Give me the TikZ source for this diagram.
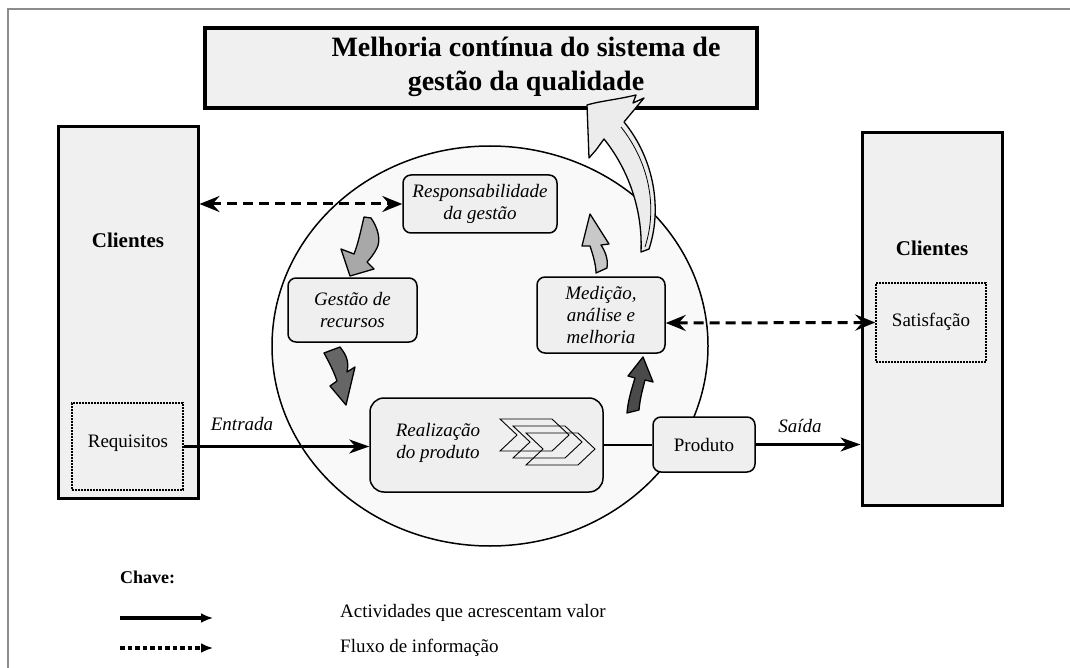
\documentclass[tikz,border=0pt]{standalone}
\usepackage{fontspec}
\setmainfont{Liberation Serif}
\usetikzlibrary{arrows.meta,shapes.geometric}
\definecolor{boxgray}{HTML}{EFEFEF}
\definecolor{cligray}{HTML}{F0F0F0}
\definecolor{circgray}{HTML}{F9F9F9}
\definecolor{framegray}{HTML}{8C8C8C}
\definecolor{arrA}{HTML}{A8A8A8}
\definecolor{arrB}{HTML}{666666}
\definecolor{arrC}{HTML}{4A4A4A}
\definecolor{arrD}{HTML}{C8C8C8}
\definecolor{arrBig}{HTML}{ECECEC}
\begin{document}
\begin{tikzpicture}[x=1pt,y=-1pt,
  procbox/.style={draw, line width=1.5pt, fill=boxgray, rounded corners=8pt,
    font=\itshape\fontsize{19}{22}\selectfont, align=center, inner sep=0pt},
  clibox/.style={draw, line width=3pt, fill=cligray, inner sep=0pt},
  dotbox/.style={draw, line width=1.5pt, dash pattern=on 2pt off 1pt, inner sep=0pt},
  txt/.style={font=\fontsize{19}{22}\selectfont, inner sep=0pt},
  itxt/.style={font=\itshape\fontsize{19}{22}\selectfont, inner sep=0pt},
  btxt/.style={font=\bfseries\fontsize{21}{24}\selectfont, inner sep=0pt},
  infoarrow/.style={line width=3pt, dash pattern=on 10pt off 6pt,
    {Stealth[length=20pt,width=16pt,inset=7pt]}-{Stealth[length=20pt,width=16pt,inset=7pt]}},
  flowarrow/.style={line width=2.2pt, -{Stealth[length=20pt,width=14pt,inset=6pt]}},
  blockarrow/.style={draw=black, line width=1.3pt, line join=round},
  chev/.style={draw=black, line width=0.9pt, line join=miter}
]
\useasboundingbox (0,0) rectangle (1070,668);
% frame
\draw[framegray, line width=2.5pt] (8,668) -- (8,9) -- (1070,9);

% title box
\node[draw, line width=3.2pt, fill=cligray, minimum width=552pt, minimum height=80pt, inner sep=0pt] (titlebox) at (481,68) {};
\node[font=\bfseries\fontsize{28}{34}\selectfont, align=center, inner sep=0pt] (title) at (526,67)
  {Melhoria contínua do sistema de\\gestão da qualidade};

% clientes boxes
\node[clibox, minimum width=140pt, minimum height=371pt] (cliL) at (128,312.5) {};
\node[btxt] (cliLtxt) at (128,240) {Clientes};
\node[dotbox, minimum width=111pt, minimum height=87pt] (reqbox) at (127.5,446.5) {};
\node[txt] (reqtxt) at (128,443) {Requisitos};

\node[clibox, minimum width=140pt, minimum height=372pt] (cliR) at (932,319) {};
\node[btxt] (cliRtxt) at (932,248) {Clientes};
\node[dotbox, minimum width=110pt, minimum height=79pt] (satbox) at (931,322.5) {};
\node[txt] (sattxt) at (931,322) {Satisfação};

% circle
\node[draw, line width=1.5pt, fill=circgray, ellipse, minimum width=436pt, minimum height=400pt, inner sep=0pt] (circ) at (490,346) {};

% process boxes
\node[procbox, minimum width=154pt, minimum height=58pt] (resp) at (480,204) {Responsabilidade\\da gestão};
\node[procbox, minimum width=129pt, minimum height=64pt] (gest) at (352.5,310) {Gestão de\\recursos};
\node[procbox, minimum width=128pt, minimum height=76pt] (med) at (601,315) {Medição,\\análise e\\melhoria};
\node[procbox, rounded corners=14pt, minimum width=233pt, minimum height=94pt] (real) at (486.5,445) {};
\node[itxt, align=center] (realtxt) at (438,443) {Realização\\do produto};
\node[procbox, font=\fontsize{19}{22}\selectfont, minimum width=102pt, minimum height=55pt] (prod) at (704,444.5) {Produto};

% chevrons
\foreach \s in {(0,0),(13,7),(26,14)}{
  \draw[chev, shift={\s}] (500,419) -- (552,419) -- (569,435) -- (552,451) -- (500,451) -- (517,435) -- cycle;
}

% connectors
\draw[flowarrow] (reqbox.east) -- (reqbox.east -| real.west);
\node[itxt] (entrada) at (242,424) {Entrada};
\draw[line width=2.2pt] (real.east) -- (real.east -| prod.west);
\draw[flowarrow] (prod.east) -- (prod.east -| cliR.west);
\node[itxt] (saida) at (800,426) {Saída};

\draw[infoarrow] (cliL.east |- resp.west) -- (resp.west);
\draw[infoarrow] ([yshift=-8pt]med.east) -- (satbox.west);

% block arrows
\draw[blockarrow, fill=arrA] (364,217) -- (371,218) .. controls (378,228) and (381,240) .. (377,248)
  .. controls (374,254) and (370,259) .. (367,262)
  -- (374,269) -- (350,276) -- (341,249) -- (354,254) .. controls (358,244) and (361,230) .. (364,217) -- cycle;
\draw[blockarrow, fill=arrB] (324,353) -- (340,347) .. controls (347,356) and (349,362) .. (347,372)
  -- (355,367) -- (346,405) -- (330,386) -- (337,381) .. controls (334,372) and (329,362) .. (324,353) -- cycle;
\draw[blockarrow, fill=arrC] (627,413) -- (639,410) .. controls (640,398) and (643,388) .. (645,380)
  -- (653,382) -- (643,357) -- (628,376) -- (635,378) .. controls (632,388) and (628,400) .. (627,413) -- cycle;
\draw[blockarrow, fill=arrD] (596,273) -- (607,268) .. controls (608,262) and (607,254) .. (601,245)
  -- (609,244) -- (590,214) -- (582,246) -- (590,246) .. controls (593,255) and (596,265) .. (596,273) -- cycle;

% big improvement arrow
\draw[blockarrow, fill=arrBig] (641,252) -- (649,249) .. controls (662,210) and (655,160) .. (624,122)
  -- (644,98) -- (633,103) -- (636,95) .. controls (615,100) and (600,101) .. (587,105)
  -- (589,158) -- (596,150) -- (604,139) .. controls (625,165) and (643,205) .. (641,252) -- cycle;
\draw[line width=0.8pt] (645,247) .. controls (657,210) and (651,165) .. (621,127);

% legend
\node[font=\bfseries\fontsize{18}{21}\selectfont, anchor=west, inner sep=0pt] (chave) at (120,577) {Chave:};
\coordinate (l1a) at (120,618);
\coordinate (l1b) at (213,618);
\coordinate (l2a) at (120,648);
\coordinate (l2b) at (213,648);
\draw[line width=3.5pt, -{Latex[length=12pt,width=10pt]}] (l1a) -- (l1b);
\draw[line width=3.5pt, dash pattern=on 4.5pt off 3pt, -{Latex[length=12pt,width=10pt]}] (l2a) -- (l2b);
\node[txt, anchor=west] (leg1) at (340,613) {Actividades que acrescentam valor};
\node[txt, anchor=west] (leg2) at (340,648) {Fluxo de informação};
\end{tikzpicture}
\end{document}
